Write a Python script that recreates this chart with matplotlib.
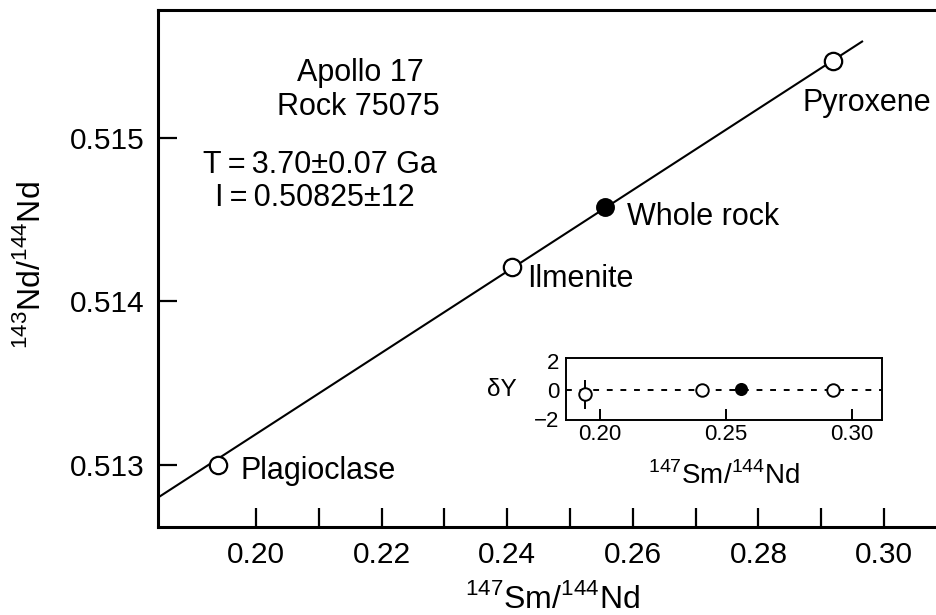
import matplotlib
matplotlib.use("Agg")
import matplotlib.pyplot as plt

plt.rcParams['font.family'] = ['Liberation Sans', 'DejaVu Sans']
plt.rcParams['mathtext.fontset'] = 'custom'
plt.rcParams['mathtext.rm'] = 'Liberation Sans'

# Data
minerals = ["Plagioclase", "Ilmenite", "Whole rock", "Pyroxene"]
sm_nd = [0.1939, 0.2408, 0.2556, 0.2919]
nd_nd = [0.51300, 0.51421, 0.51458, 0.51547]
filled = [False, False, True, False]
isochron_x = [0.1844, 0.2965]
isochron_y = [0.51280, 0.51559]
dy_x = [0.1940, 0.2404, 0.2562, 0.2928]
dy_y = [-0.3, 0.0, 0.1, 0.0]
dy_err = [1.0, 0.3, 0.3, 0.3]
xticks = [0.20, 0.21, 0.22, 0.23, 0.24, 0.25, 0.26, 0.27, 0.28, 0.29, 0.30]
xticklabels = ["0.20", "", "0.22", "", "0.24", "", "0.26", "", "0.28", "", "0.30"]
yticks = [0.513, 0.514, 0.515]
yticklabels = ["0.513", "0.514", "0.515"]
inset_xticks = [0.20, 0.25, 0.30]
inset_xticklabels = ["0.20", "0.25", "0.30"]
inset_yticks = [-2, 0, 2]
inset_yticklabels = ["\u22122", "0", "2"]

W, H = 936, 615
fig = plt.figure(figsize=(W / 100, H / 100), dpi=100)
L, R, T, B = 158, 945, 10, 527
ax = fig.add_axes([L / W, 1 - B / H, (R - L) / W, (B - T) / H])
ax.set_xlim(0.1844, 0.3097)
ax.set_ylim(0.51262, 0.515783)
for s in ax.spines.values():
    s.set_linewidth(2.2)

ax.plot(isochron_x, isochron_y, color='black', lw=1.5, zorder=2)
for x, y, f in zip(sm_nd, nd_nd, filled):
    ax.plot(x, y, 'o', ms=12 if f else 12.5, mfc='black' if f else 'white',
            mec='black', mew=1.6, zorder=3)

label_off = {"Plagioclase": (23, -6),
             "Ilmenite": (15, -12),
             "Whole rock": (22, -10),
             "Pyroxene": (-31, -42)}
for name, x, y in zip(minerals, sm_nd, nd_nd):
    ax.annotate(name, (x, y), xytext=label_off[name], textcoords='offset pixels',
                fontsize=22, ha='left', va='center')

ax.set_xticks(xticks)
ax.set_xticklabels(xticklabels)
ax.set_yticks(yticks)
ax.set_yticklabels(yticklabels)
ax.tick_params(direction='in', length=14, width=1.6, labelsize=21.5)
ax.tick_params(axis='x', pad=10)
ax.tick_params(axis='y', pad=9.5)

fig.text(552 / W, 1 - 608 / H, r'$^{147}$Sm/$^{144}$Nd', fontsize=23,
         ha='center', va='baseline')
fig.text(31 / W, 1 - 265 / H, r'$^{143}$Nd/$^{144}$Nd', fontsize=23,
         ha='center', va='center', rotation=90)

fig.text(360 / W, 1 - 73 / H, "Apollo 17", fontsize=22, ha='center', va='center')
fig.text(358 / W, 1 - 107 / H, "Rock 75075", fontsize=22, ha='center', va='center')
fig.text(320 / W, 1 - 165 / H, "T\u2009=\u20093.70\u00b10.07 Ga", fontsize=22, ha='center', va='center')
fig.text(315 / W, 1 - 198 / H, "I\u2009=\u20090.50825\u00b112", fontsize=22, ha='center', va='center')

# Inset
iL, iR, iT, iB = 566, 882, 358, 420
ia = fig.add_axes([iL / W, 1 - iB / H, (iR - iL) / W, (iB - iT) / H])
ia.set_xlim(0.1865, 0.3121)
ia.set_ylim(-2.05, 2.2)
for s in ia.spines.values():
    s.set_linewidth(1.4)
ia.axhline(0, color='black', lw=1.4, ls=(0, (3, 4)), zorder=1)
for x, y, e, f in zip(dy_x, dy_y, dy_err, filled):
    ia.errorbar(x, y, yerr=e, fmt='o', ms=8 if f else 9,
                mfc='black' if f else 'white', mec='black', mew=1.4,
                ecolor='black', elinewidth=1.4, capsize=0, zorder=3)
ia.set_xticks(inset_xticks)
ia.set_xticklabels(inset_xticklabels)
ia.set_yticks(inset_yticks)
ia.set_yticklabels(inset_yticklabels)
ia.tick_params(axis='x', direction='in', length=8, width=1.4, labelsize=16, pad=3)
ia.tick_params(axis='y', length=0, labelsize=16, pad=4.5)
fig.text(724 / W, 1 - 484 / H, r'$^{147}$Sm/$^{144}$Nd', fontsize=20,
         ha='center', va='baseline')
fig.text(502 / W, 1 - 390 / H, '\u03b4Y', fontsize=17.5, ha='center', va='center')

fig.savefig("out.png", dpi=100)
